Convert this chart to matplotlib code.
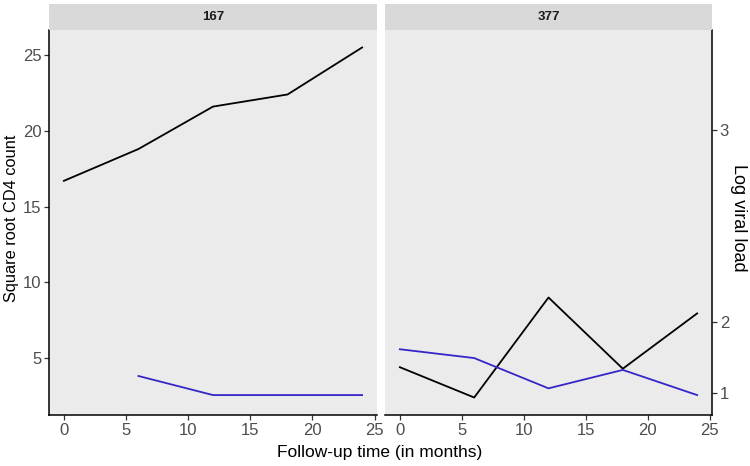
import numpy as np
import matplotlib.pyplot as plt

plt.rcParams['font.family'] = ['Liberation Sans', 'DejaVu Sans']

# -------------------------------------------------------------------------------------
# Data
panel_ids = ['167', '377']
months = [0, 6, 12, 18, 24]

sqrt_cd4_167 = [16.7, 18.8, 21.6, 22.4, 25.5]
sqrt_cd4_377 = [4.4, 2.4, 9.0, 4.3, 7.95]

log_vl_167 = [np.nan, 1.34, 0.94, 0.94, 0.94]
log_vl_377 = [1.72, 1.61, 1.10, 1.44, 0.94]

right_ticks = [1, 2, 3]
x_ticks = [0, 5, 10, 15, 20, 25]
# -------------------------------------------------------------------------------------

panel_bg = '#EBEBEB'
strip_bg = '#D9D9D9'
tick_col = '#4D4D4D'
blue_col = '#3526C8'

fig = plt.figure(figsize=(7.5, 4.66), dpi=100)

W, H = 750.0, 466.0
panel_top = 30.0
panel_bot = 415.0
strip_top = 4.0
panels_x = [(49.0, 377.0), (385.0, 712.0)]

cd4_all = np.array(sqrt_cd4_167 + sqrt_cd4_377)
vl_all = np.exp(np.array(log_vl_167 + log_vl_377))
y_lo = np.nanmin(np.concatenate([cd4_all, vl_all]))
y_hi = np.nanmax(np.concatenate([cd4_all, vl_all]))
y_pad = 0.05 * (y_hi - y_lo)
x_pad = 0.05 * (max(months) - min(months))

series = [(sqrt_cd4_167, log_vl_167), (sqrt_cd4_377, log_vl_377)]

for i, (pid, (x0, x1)) in enumerate(zip(panel_ids, panels_x)):
    ax = fig.add_axes([x0 / W, 1 - panel_bot / H, (x1 - x0) / W, (panel_bot - panel_top) / H])
    ax.set_facecolor(panel_bg)
    cd4, vl = series[i]
    ax.plot(months, cd4, color='black', lw=1.3)
    ax.plot(months, np.exp(vl), color=blue_col, lw=1.3)
    ax.set_xlim(min(months) - x_pad, max(months) + x_pad)
    ax.set_ylim(y_lo - y_pad, y_hi + y_pad)
    ax.set_xticks(x_ticks)
    ax.set_yticks([5, 10, 15, 20, 25])
    for s in ['top', 'right', 'left']:
        ax.spines[s].set_visible(False)
    ax.spines['bottom'].set_linewidth(1.1)
    ax.tick_params(axis='both', colors='#333333', labelcolor=tick_col, labelsize=12,
                   length=3.5, width=0.9, pad=2)
    if i == 0:
        ax.spines['left'].set_visible(True)
        ax.spines['left'].set_linewidth(1.1)
    else:
        ax.tick_params(axis='y', left=False, labelleft=False)
        sec = ax.secondary_yaxis('right', functions=(np.log, np.exp))
        sec.set_yticks(right_ticks)
        sec.spines['right'].set_linewidth(1.1)
        sec.tick_params(colors='#333333', labelcolor=tick_col, labelsize=12,
                        length=3.5, width=0.9, pad=2)

    # facet strip
    sax = fig.add_axes([x0 / W, 1 - panel_top / H, (x1 - x0) / W, (panel_top - strip_top) / H])
    sax.set_facecolor(strip_bg)
    sax.set_xticks([])
    sax.set_yticks([])
    for s in sax.spines.values():
        s.set_visible(False)
    sax.text(0.5, 0.5, pid, ha='center', va='center', fontsize=9.5, fontweight='bold',
             color='#1A1A1A', transform=sax.transAxes)

fig.text(12.0 / W, 1 - 218.0 / H, 'Square root CD4 count', rotation=90, ha='center',
         va='center', fontsize=11.8)
fig.text(738.0 / W, 1 - 218.0 / H, 'Log viral load', rotation=-90, ha='center',
         va='center', fontsize=13)
fig.text(380.0 / W, 1 - 452.0 / H, 'Follow-up time (in months)', ha='center', va='center',
         fontsize=12.5)

fig.savefig('out.png', dpi=100)
plt.close()
